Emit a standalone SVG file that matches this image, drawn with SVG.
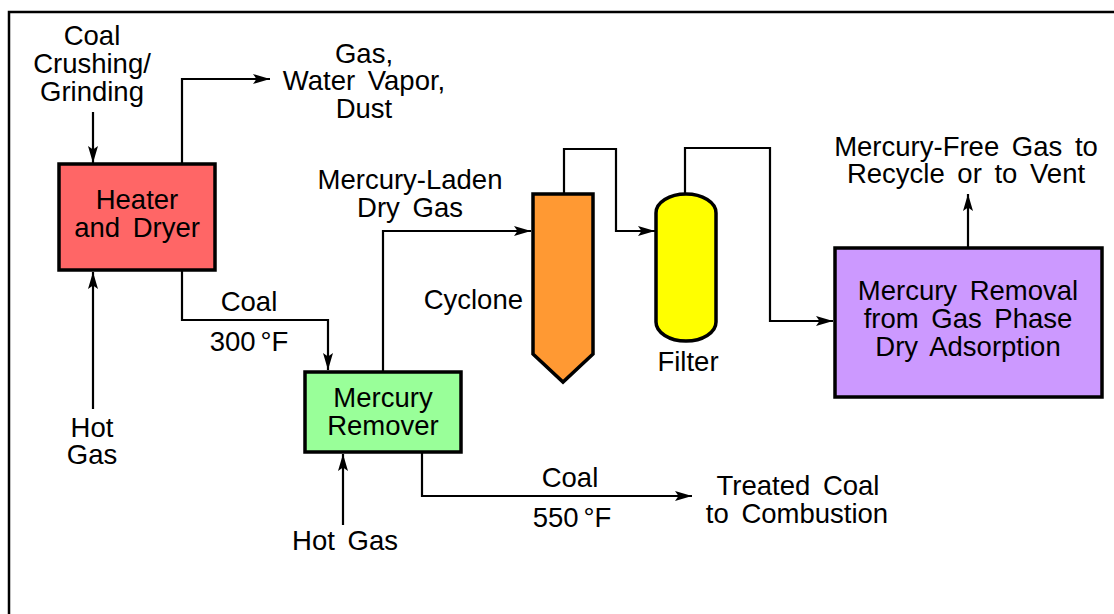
<svg xmlns="http://www.w3.org/2000/svg" width="1114" height="614" viewBox="0 0 1114 614">
<style>
text{font-family:"Liberation Sans",Arial,sans-serif;font-size:27.5px;fill:#000;text-anchor:middle;word-spacing:5px}
.box{stroke:#000;stroke-width:3.5}
.con{fill:none;stroke:#000;stroke-width:2.2}
</style>
<defs>
<marker id="ah" markerUnits="userSpaceOnUse" markerWidth="18" markerHeight="12" refX="17" refY="6" orient="auto">
<path d="M0,1 L17,6 L0,11 L3.5,6 Z" fill="#000"/>
</marker>
</defs>
<rect width="1114" height="614" fill="#fff"/>
<path d="M9,620 L9,12 L1120,12" fill="none" stroke="#000" stroke-width="2.5"/>

<g id="connectors">
<path class="con" d="M93,112 L93,163" marker-end="url(#ah)"/>
<path class="con" d="M182,164 L182,79 L270,79" marker-end="url(#ah)"/>
<path class="con" d="M93,409 L93,272" marker-end="url(#ah)"/>
<path class="con" d="M182,270 L182,320 L328,320 L328,370" marker-end="url(#ah)"/>
<path class="con" d="M383,372 L383,231 L531,231" marker-end="url(#ah)"/>
<path class="con" d="M564,194 L564,149 L616,149 L616,231 L655,231" marker-end="url(#ah)"/>
<path class="con" d="M685,194 L685,148 L770,148 L770,321 L833,321" marker-end="url(#ah)"/>
<path class="con" d="M968,248 L968,194" marker-end="url(#ah)"/>
<path class="con" d="M343,525 L343,454" marker-end="url(#ah)"/>
<path class="con" d="M422,452 L422,496 L692,496" marker-end="url(#ah)"/>
</g>

<g id="heater">
<rect class="box" x="59" y="164" width="156" height="106" fill="#FF6666"/>
<text x="137" y="209">Heater</text>
<text x="137" y="237">and Dryer</text>
</g>
<g id="remover">
<rect class="box" x="305" y="372" width="156" height="80" fill="#99FF99"/>
<text x="383" y="407">Mercury</text>
<text x="383" y="435">Remover</text>
</g>
<g id="cyclone">
<polygon class="box" points="533,194 593,194 593,354 563,382 533,354" fill="#FF9933"/>
<text x="523" y="309" style="text-anchor:end">Cyclone</text>
</g>
<g id="filter">
<path class="box" d="M656,213 A30,19 0 0 1 716,213 L716,322 A30,19 0 0 1 656,322 Z" fill="#FFFF00"/>
<text x="688" y="371">Filter</text>
</g>
<g id="adsorption">
<rect class="box" x="835" y="248" width="267" height="149" fill="#CC99FF"/>
<text x="968" y="300">Mercury Removal</text>
<text x="968" y="328">from Gas Phase</text>
<text x="968" y="356">Dry Adsorption</text>
</g>

<g id="labels">
<text x="92" y="45">Coal</text>
<text x="92" y="73">Crushing/</text>
<text x="92" y="101">Grinding</text>
<text x="364" y="63">Gas,</text>
<text x="364" y="90">Water Vapor,</text>
<text x="364" y="118">Dust</text>
<text x="410" y="189">Mercury-Laden</text>
<text x="410" y="217">Dry Gas</text>
<text x="966" y="156">Mercury-Free Gas to</text>
<text x="966" y="183">Recycle or to Vent</text>
<text x="249" y="311">Coal</text>
<text x="249" y="351">300<tspan dx="5">°</tspan>F</text>
<text x="92" y="437">Hot</text>
<text x="92" y="464">Gas</text>
<text x="345" y="550">Hot Gas</text>
<text x="570" y="487">Coal</text>
<text x="572" y="527">550<tspan dx="5">°</tspan>F</text>
<text x="798" y="495">Treated Coal</text>
<text x="797" y="523">to Combustion</text>
</g>
</svg>
